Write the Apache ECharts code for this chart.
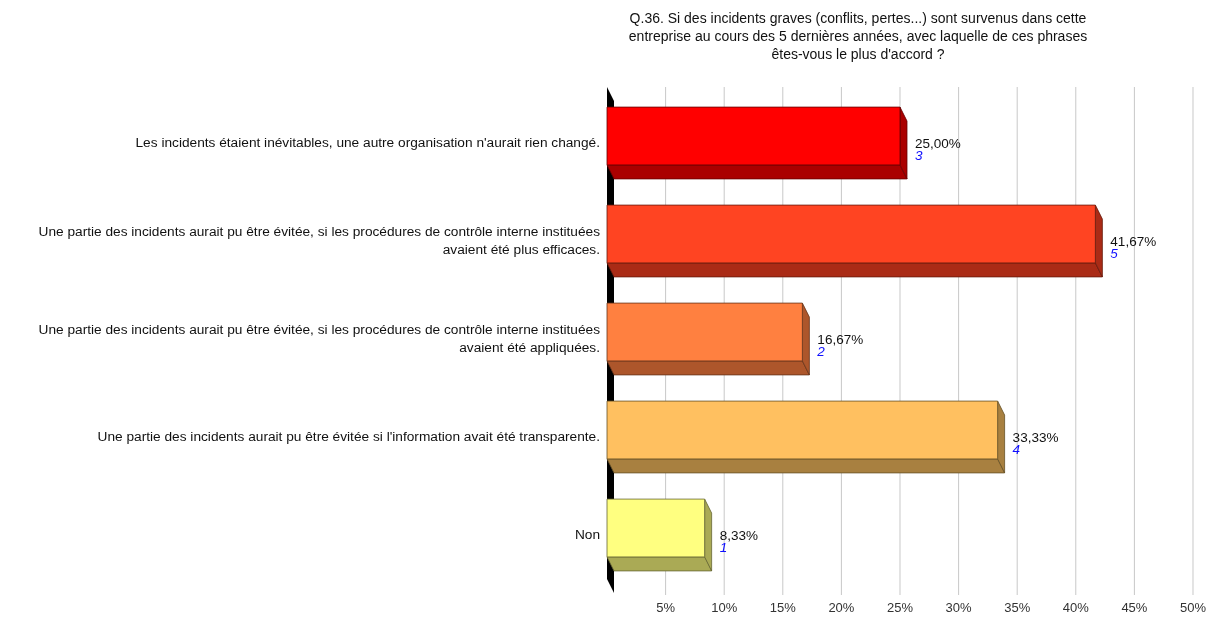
<!DOCTYPE html>
<html>
<head>
<meta charset="utf-8">
<script src="https://cdn.jsdelivr.net/npm/echarts@6/dist/echarts.min.js"></script>
<style>html,body{margin:0;padding:0;background:#fff}#c{width:1209px;height:623px}</style>
</head>
<body>
<div id="c"></div>
<script>
var titleLines = [
  "Q.36. Si des incidents graves (conflits, pertes...) sont survenus dans cette",
  "entreprise au cours des 5 dernières années, avec laquelle de ces phrases",
  "êtes-vous le plus d'accord ?"
];
var categories = [
  "Les incidents étaient inévitables, une autre organisation n'aurait rien changé.",
  "Une partie des incidents aurait pu être évitée, si les procédures de contrôle interne instituées\navaient été plus efficaces.",
  "Une partie des incidents aurait pu être évitée, si les procédures de contrôle interne instituées\navaient été appliquées.",
  "Une partie des incidents aurait pu être évitée si l'information avait été transparente.",
  "Non"
];
var percentValues = [25.00, 41.67, 16.67, 33.33, 8.33];
var percentLabels = ["25,00%", "41,67%", "16,67%", "33,33%", "8,33%"];
var counts = [3, 5, 2, 4, 1];
var tickValues = [5, 10, 15, 20, 25, 30, 35, 40, 45, 50];

var frontColors = ["#FF0000", "#FF4422", "#FF8040", "#FFC060", "#FFFF80"];
var sideColors  = ["#AA0000", "#AA2B16", "#AD562B", "#A88040", "#AAAA55"];
var edgeColors  = ["#660000", "#661A0D", "#66331A", "#665026", "#666633"];

var DX = 7, DY = 14;
var FONT = 'Liberation Sans, Arial, sans-serif';

var chart = echarts.init(document.getElementById('c'), null, {renderer: 'canvas'});

var barData = percentValues.map(function (v, i) { return [v, i]; });
var gridData = tickValues.map(function (v) { return [v]; });

chart.setOption({
  animation: false,
  backgroundColor: '#ffffff',
  textStyle: {fontFamily: FONT},
  graphic: titleLines.map(function (t, i) {
    return {
      type: 'text', x: 858, y: 12 + i * 18,
      style: {text: t, fontSize: 14, fill: '#111', fontFamily: FONT, textAlign: 'center'}
    };
  }),
  grid: {left: 607, right: 15, top: 87, bottom: 46, containLabel: false},
  xAxis: {
    type: 'value', min: 0, max: 50, interval: 5,
    axisLine: {show: false}, axisTick: {show: false}, splitLine: {show: false},
    axisLabel: {
      margin: 25, fontSize: 13, color: '#333',
      formatter: function (v) { return v === 0 ? '' : v + '%'; }
    }
  },
  yAxis: {
    type: 'category', inverse: true, data: categories,
    axisLine: {show: false}, axisTick: {show: false}, splitLine: {show: false},
    axisLabel: {show: false}
  },
  series: [
    {
      type: 'custom', z: 1, silent: true,
      data: gridData,
      encode: {x: 0},
      renderItem: function (params, api) {
        var cs = params.coordSys;
        var x = api.coord([api.value(0), 0])[0];
        var children = [{
          type: 'line',
          shape: {x1: x, y1: cs.y, x2: x, y2: cs.y + cs.height + 18},
          style: {stroke: '#C8C8C8', lineWidth: 1}
        }];
        if (params.dataIndex === 0) {
          var x0 = cs.x;
          children.push({
            type: 'polygon',
            shape: {points: [[x0, cs.y], [x0 + DX, cs.y + DY], [x0 + DX, cs.y + cs.height + DY + 2], [x0, cs.y + cs.height + 2]]},
            style: {fill: '#000000'}
          });
        }
        return {type: 'group', children: children};
      }
    },
    {
      type: 'custom', z: 2, silent: true,
      data: barData,
      encode: {x: 0, y: 1},
      renderItem: function (params, api) {
        var i = params.dataIndex;
        var end = api.coord([api.value(0), api.value(1)]);
        var start = api.coord([0, api.value(1)]);
        var band = api.size([0, 1])[1];
        var h = band * 0.59;
        var x0 = start[0], x1 = end[0];
        var y0 = end[1] - h / 2, y1 = end[1] + h / 2;
        var cy = end[1];
        return {
          type: 'group',
          children: [
            {type: 'polygon', shape: {points: [[x0, y1], [x1, y1], [x1 + DX, y1 + DY], [x0 + DX, y1 + DY]]},
              style: {fill: sideColors[i], stroke: edgeColors[i], lineWidth: 0.8}},
            {type: 'polygon', shape: {points: [[x1, y0], [x1 + DX, y0 + DY], [x1 + DX, y1 + DY], [x1, y1]]},
              style: {fill: sideColors[i], stroke: edgeColors[i], lineWidth: 0.8}},
            {type: 'rect', shape: {x: x0, y: y0, width: x1 - x0, height: h},
              style: {fill: frontColors[i], stroke: edgeColors[i], lineWidth: 0.8}},
            {type: 'text', x: x0 - 7, y: cy + 7,
              style: {text: categories[i], fontSize: 13.7, lineHeight: 18, fill: '#111', fontFamily: FONT, verticalAlign: 'middle', textAlign: 'right'}},
            {type: 'text', x: x1 + DX + 8, y: cy + 8,
              style: {text: percentLabels[i], fontSize: 13.5, fill: '#111', fontFamily: FONT, verticalAlign: 'middle', textAlign: 'left'}},
            {type: 'text', x: x1 + DX + 8, y: cy + 20.5,
              style: {text: String(counts[i]), fontSize: 13.5, fontStyle: 'italic', fill: '#1010FF', fontFamily: FONT, verticalAlign: 'middle', textAlign: 'left'}}
          ]
        };
      }
    }
  ]
});
</script>
</body>
</html>
